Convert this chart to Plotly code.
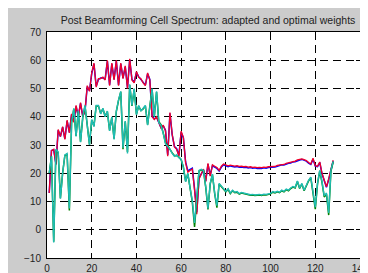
import plotly.graph_objects as go

x_bins = list(range(1, 129))

adapted = [13, 28, 28.5, 23, 35.5, 33, 36.5, 32, 38.8, 34.3,
           41, 38, 44, 40, 45, 40, 42, 51, 49, 55.5,
           59, 50.5, 53.5, 53.5, 54, 53, 60, 51, 59, 53,
           60, 51, 59, 53.5, 58, 50, 60.5, 53, 52, 56,
           54, 53.5, 52, 51, 55.5, 53, 40, 39, 40, 38,
           36, 37, 35, 26, 41.5, 33.8, 29.3, 28.5, 26, 34.9,
           32.7, 23.7, 20.4, 21, 21.5, 14, 5.5, 18, 19.5, 21.5,
           17, 23.5, 19, 23, 22.5, 22, 21, 22.5, 23.3, 22.8,
           22.6, 22.9, 22.7, 22.5, 22.7, 22.4, 22.5, 22.3, 22.4, 22.2,
           22.3, 22.1, 22.2, 22.0, 22.1, 22.0, 22.2, 22.1, 22.3, 22.3,
           22.5, 22.4, 22.8, 22.9, 23.2, 23.1, 23.5, 23.7, 23.8, 24.2,
           24.3, 24.7, 24.9, 25.1, 24.8, 24.5, 23.8, 23.3, 25.3, 22.7,
           22.5, 24.0, 20.0, 17.5, 15.2, 18.0, 21.5, 24.6]

optimal = [13, 28, 28.3, 23.2, 35.2, 33, 36.3, 32.2, 38.5, 34.5,
           40.8, 38.2, 43.7, 40.2, 44.7, 40.1, 42, 50.7, 49.2, 55.2,
           58.7, 50.8, 53.2, 53.7, 53.8, 53.2, 59.7, 51.3, 58.7, 53.2,
           59.7, 51.3, 58.7, 53.7, 57.7, 50.3, 60.2, 53.2, 52.2, 55.7,
           54.2, 53.3, 52.2, 51.2, 55.2, 53.2, 40.3, 39.2, 39.8, 38.2,
           36.2, 36.8, 35.2, 26.5, 41.2, 33.6, 29.5, 28.7, 26.3, 34.5,
           32.5, 24.0, 20.8, 21.4, 21.8, 14.5, 6.2, 18.3, 19.8, 21.2,
           17.3, 23.2, 19.3, 22.7, 22.2, 21.7, 20.8, 22.2, 23.0, 22.5,
           22.3, 22.6, 22.4, 22.2, 22.4, 22.1, 22.2, 22.0, 22.1, 21.9,
           22.0, 21.8, 21.9, 21.7, 21.8, 21.7, 21.9, 21.8, 22.0, 22.0,
           22.2, 22.2, 22.5, 22.7, 23.0, 22.9, 23.3, 23.5, 23.6, 24.0,
           24.1, 24.5, 24.7, 24.9, 24.6, 24.3, 23.6, 23.1, 25.0, 22.5,
           22.3, 23.8, 19.8, 17.3, 15.0, 17.8, 21.3, 24.4]

sinr_a = [20, 26, -4.5, 28.5, 27.5, 11, 20, 26.5, 27, 7.5,
          38, 43, 33, 42, 31, 40, 44, 37, 30, 39,
          36.5, 44, 44, 41, 43, 40, 42, 35, 40, 32,
          42, 46, 49, 29, 38.5, 27, 51.5, 44, 50, 40.7,
          44, 42, 43, 44, 37, 44, 50, 40, 49, 38,
          37, 34, 30.5, 29.5, 28.5, 27, 26, 26.5, 25.5, 25,
          22, 17, 20, 14.7, 10.2, 2.4, 11.3, 21, 21.4, 21,
          15.3, 7.5, 16.4, 19.7, 13, 8.5, 16.4, 15.5, 14.7, 13.6,
          14.5, 13, 14, 13.3, 13.5, 12.8, 13.2, 13, 12.8, 12.6,
          12.4, 12.5, 12.3, 12.4, 12.5, 12.3, 12.6, 12.5, 12.8, 12.9,
          13.5, 13.2, 13.6, 13.3, 14, 13.6, 14.4, 14, 14.8, 15.3,
          15, 17.3, 14.8, 16.4, 14, 15.8, 17.5, 18.6, 13, 8,
          16.4, 21, 17, 12, 13, 6, 21, 24.2]

sinr_o = [20, 26, -4.2, 28.3, 27.3, 11.2, 20.2, 26.3, 26.8, 6.8,
          37.8, 42.8, 33.2, 41.8, 31.2, 39.8, 43.8, 37.2, 30.2, 38.8,
          36.7, 43.8, 43.8, 41.2, 42.8, 40.2, 41.8, 35.2, 39.8, 32.2,
          41.8, 45.8, 48.8, 28.5, 38.3, 27.5, 51.2, 43.8, 49.7, 40.9,
          43.8, 42.2, 42.8, 43.8, 37.2, 43.8, 49.7, 40.2, 48.7, 38.2,
          37.2, 34.2, 30.7, 29.7, 28.3, 27.2, 26.2, 26.3, 25.7, 24.8,
          22.2, 17.2, 19.8, 14.5, 9.8, 1.0, 11.0, 20.8, 21.2, 20.8,
          15.0, 7.2, 16.2, 19.5, 12.8, 7.8, 16.2, 15.3, 14.5, 13.4,
          14.3, 12.8, 13.8, 13.1, 13.3, 12.6, 13.0, 12.8, 12.6, 12.4,
          12.2, 12.3, 12.1, 12.2, 12.3, 12.1, 12.4, 12.3, 12.6, 12.7,
          13.3, 13.0, 13.4, 13.1, 13.8, 13.4, 14.2, 13.8, 14.6, 15.1,
          14.8, 17.1, 14.6, 16.2, 13.8, 15.6, 17.3, 18.4, 12.6, 7.3,
          16.2, 20.8, 16.8, 11.6, 12.6, 5.2, 20.8, 24.0]

title_text = "Post Beamforming Cell Spectrum: adapted and optimal weights"
x_ticks = [0, 20, 40, 60, 80, 100, 120, 140]
y_ticks = [-10, 0, 10, 20, 30, 40, 50, 60, 70]

fig = go.Figure()
fig.add_trace(go.Scatter(x=x_bins, y=optimal, mode="lines",
                         line=dict(color="#0000ff", width=1.5)))
fig.add_trace(go.Scatter(x=x_bins, y=adapted, mode="lines",
                         line=dict(color="#f0002a", width=1.3)))
fig.add_trace(go.Scatter(x=x_bins, y=sinr_o, mode="lines",
                         line=dict(color="#008000", width=1.5)))
fig.add_trace(go.Scatter(x=x_bins, y=sinr_a, mode="lines",
                         line=dict(color="#1fbcb4", width=1.4)))

font_family = "Liberation Sans, Arial, Helvetica, sans-serif"
axis_common = dict(
    showline=True, linecolor="black", linewidth=1, mirror="ticks",
    ticks="inside", ticklen=4, tickcolor="black",
    showgrid=True, gridcolor="black", gridwidth=1, griddash="8px,5px",
    zeroline=False, ticklabeloverflow="allow",
    tickfont=dict(family=font_family, size=10, color="#222222"),
)

fig.update_layout(
    width=368, height=273,
    margin=dict(l=39, r=7, t=24, b=12),
    paper_bgcolor="#cccccc",
    plot_bgcolor="white",
    showlegend=False,
    title=dict(text=title_text, x=0.5435, xanchor="center", y=0.955, yanchor="middle",
               font=dict(family=font_family, size=10.5, color="#222222")),
    xaxis=dict(range=[0, 140], tickvals=x_ticks, ticklabelstandoff=1, **axis_common),
    yaxis=dict(range=[-10, 70], tickvals=y_ticks, ticklabelstandoff=3, **axis_common),
)

fig.write_html("out.html")
